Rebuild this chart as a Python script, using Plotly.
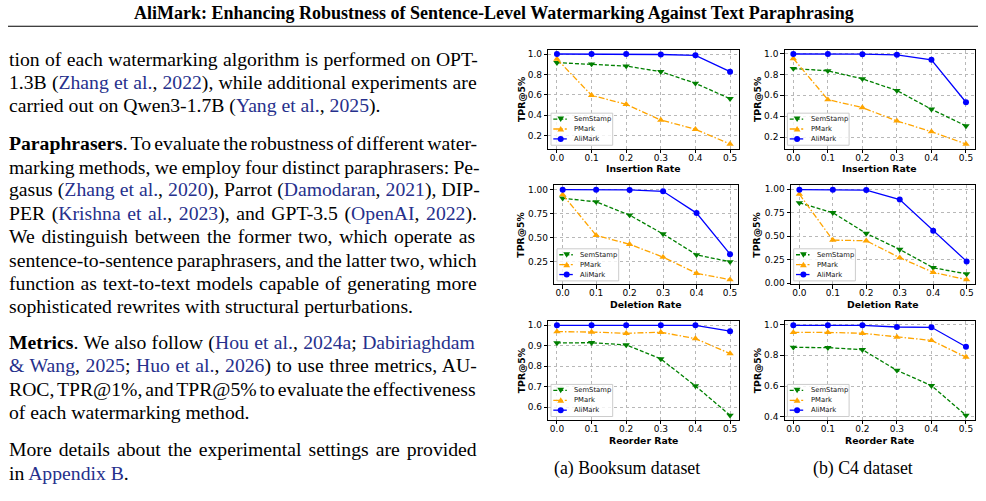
import re
import plotly.graph_objects as go

# ---------------- data ----------------
rates = [0.0, 0.1, 0.2, 0.3, 0.4, 0.5]
rate_labels = ["0.0", "0.1", "0.2", "0.3", "0.4", "0.5"]
methods = ["SemStamp", "PMark", "AliMark"]

booksum_insertion_semstamp = [0.915, 0.902, 0.882, 0.827, 0.713, 0.562]
booksum_insertion_pmark = [0.951, 0.595, 0.507, 0.353, 0.262, 0.118]
booksum_insertion_alimark = [1.000, 1.000, 1.000, 0.995, 0.987, 0.827]

c4_insertion_semstamp = [0.856, 0.834, 0.757, 0.645, 0.466, 0.306]
c4_insertion_pmark = [0.952, 0.558, 0.482, 0.354, 0.251, 0.133]
c4_insertion_alimark = [0.995, 0.995, 0.993, 0.987, 0.939, 0.533]

booksum_deletion_semstamp = [0.911, 0.873, 0.735, 0.539, 0.322, 0.250]
booksum_deletion_pmark = [0.948, 0.525, 0.432, 0.298, 0.130, 0.064]
booksum_deletion_alimark = [1.000, 1.000, 0.997, 0.983, 0.756, 0.329]

c4_deletion_semstamp = [0.855, 0.750, 0.530, 0.360, 0.166, 0.099]
c4_deletion_pmark = [0.947, 0.459, 0.452, 0.272, 0.117, 0.039]
c4_deletion_alimark = [0.995, 0.995, 0.990, 0.890, 0.558, 0.233]

booksum_reorder_semstamp = [0.914, 0.915, 0.904, 0.836, 0.704, 0.561]
booksum_reorder_pmark = [0.969, 0.967, 0.961, 0.966, 0.935, 0.862]
booksum_reorder_alimark = [1.000, 1.000, 1.000, 1.000, 1.000, 0.971]

c4_reorder_semstamp = [0.851, 0.849, 0.836, 0.702, 0.603, 0.411]
c4_reorder_pmark = [0.948, 0.948, 0.942, 0.918, 0.896, 0.788]
c4_reorder_alimark = [0.994, 0.994, 0.994, 0.983, 0.981, 0.855]

ins_booksum_yticks = [0.2, 0.4, 0.6, 0.8, 1.0]
ins_booksum_ylabels = ["0.2", "0.4", "0.6", "0.8", "1.0"]
ins_c4_yticks = [0.2, 0.4, 0.6, 0.8, 1.0]
ins_c4_ylabels = ["0.2", "0.4", "0.6", "0.8", "1.0"]
del_booksum_yticks = [0.25, 0.50, 0.75, 1.00]
del_booksum_ylabels = ["0.25", "0.50", "0.75", "1.00"]
del_c4_yticks = [0.00, 0.25, 0.50, 0.75, 1.00]
del_c4_ylabels = ["0.00", "0.25", "0.50", "0.75", "1.00"]
reo_booksum_yticks = [0.6, 0.7, 0.8, 0.9, 1.0]
reo_booksum_ylabels = ["0.6", "0.7", "0.8", "0.9", "1.0"]
reo_c4_yticks = [0.4, 0.6, 0.8, 1.0]
reo_c4_ylabels = ["0.4", "0.6", "0.8", "1.0"]

x_titles = ["Insertion Rate", "Deletion Rate", "Reorder Rate"]
y_title = "TPR@5%"
captions = ["(a) Booksum dataset", "(b) C4 dataset"]

panels = [
    [(booksum_insertion_semstamp, booksum_insertion_pmark, booksum_insertion_alimark), ins_booksum_yticks, ins_booksum_ylabels],
    [(c4_insertion_semstamp, c4_insertion_pmark, c4_insertion_alimark), ins_c4_yticks, ins_c4_ylabels],
    [(booksum_deletion_semstamp, booksum_deletion_pmark, booksum_deletion_alimark), del_booksum_yticks, del_booksum_ylabels],
    [(c4_deletion_semstamp, c4_deletion_pmark, c4_deletion_alimark), del_c4_yticks, del_c4_ylabels],
    [(booksum_reorder_semstamp, booksum_reorder_pmark, booksum_reorder_alimark), reo_booksum_yticks, reo_booksum_ylabels],
    [(c4_reorder_semstamp, c4_reorder_pmark, c4_reorder_alimark), reo_c4_yticks, reo_c4_ylabels],
]

header = "AliMark: Enhancing Robustness of Sentence-Level Watermarking Against Text Paraphrasing"
# {..} = citation / link (blue), *..* = bold
body_lines = [
    "tion of each watermarking algorithm is performed on OPT-",
    "1.3B ({Zhang et al.}, {2022}), while additional experiments are",
    "carried out on Qwen3-1.7B ({Yang et al.}, {2025}).",
    "*Paraphrasers*. To evaluate the robustness of different water-",
    "marking methods, we employ four distinct paraphrasers: Pe-",
    "gasus ({Zhang et al.}, {2020}), Parrot ({Damodaran}, {2021}), DIP-",
    "PER ({Krishna et al.}, {2023}), and GPT-3.5 ({OpenAI}, {2022}).",
    "We distinguish between the former two, which operate as",
    "sentence-to-sentence paraphrasers, and the latter two, which",
    "function as text-to-text models capable of generating more",
    "sophisticated rewrites with structural perturbations.",
    "*Metrics*. We also follow ({Hou et al.}, {2024a}; {Dabiriaghdam}",
    "{& Wang}, {2025}; {Huo et al.}, {2026}) to use three metrics, AU-",
    "ROC, TPR@1%, and TPR@5% to evaluate the effectiveness",
    "of each watermarking method.",
    "More details about the experimental settings are provided",
    "in {Appendix B}.",
]
paragraph_end = [2, 10, 14, 16]

# ---------------- layout (page pixels) ----------------
W, H = 986, 501
boxes = [  # left, right, top, bottom
    (548.3, 738.7, 49, 149),
    (784.7, 974.6, 49, 149),
    (554.3, 738.4, 186, 286),
    (791.0, 975.0, 186, 286),
    (548.3, 738.7, 323, 423),
    (784.7, 974.6, 323, 423),
]
baselines = [65.7, 89.2, 112.7, 150.5, 174, 197.5, 221, 244.5, 268, 291.5, 315,
             351.5, 375, 398.5, 422, 459.5, 483]
BODY_SIZE = 19.7
TEXT_LEFT = 8.0
LINK = "#26308c"

styles = {
    "SemStamp": dict(color="#008000", dash="4px,2px", symbol="triangle-down", size=6.5),
    "PMark": dict(color="#FFA500", dash="6px,2px,1.5px,2px", symbol="triangle-up", size=6.5),
    "AliMark": dict(color="#0000FF", dash="solid", symbol="circle", size=6),
}

# Times metrics (1/1000 em), used to justify the body lines like the typeset page
TIMES = {' ': 250, '%': 833, '&': 778, '(': 333, ')': 333, ',': 250, '-': 333, '.': 250,
         ':': 278, ';': 278, '@': 921}
TIMES.update({d: 500 for d in "0123456789"})
TIMES.update(dict(zip("ABCDEFGHIJKLMNOPQRSTUVWXYZ",
                      [722, 667, 667, 722, 611, 556, 722, 722, 333, 389, 722, 611, 889, 722, 722,
                       556, 722, 667, 556, 611, 722, 722, 944, 722, 722, 611])))
TIMES.update(dict(zip("abcdefghijklmnopqrstuvwxyz",
                      [444, 500, 444, 500, 444, 333, 500, 500, 278, 278, 500, 278, 778, 500, 500,
                       500, 500, 333, 389, 278, 500, 500, 722, 500, 500, 444])))
TIMES_BOLD = {'P': 611, 'a': 500, 'r': 444, 'p': 556, 'h': 556, 's': 389, 'e': 444,
              'M': 944, 't': 333, 'i': 278, 'c': 444}


def px(x):
    return x / W


def py(y):
    return 1 - y / H


def build_line(line, justify):
    segs = [s for s in re.split(r'(\{[^}]*\}|\*[^*]*\*)', line) if s]
    width = 0.0
    spaces = 0
    parsed = []
    for s in segs:
        if s.startswith('{'):
            kind, txt = 'c', s[1:-1]
        elif s.startswith('*'):
            kind, txt = 'b', s[1:-1]
        else:
            kind, txt = 'n', s
        table = TIMES_BOLD if kind == 'b' else TIMES
        width += sum(table.get(ch, TIMES.get(ch, 500)) for ch in txt) * BODY_SIZE / 1000
        spaces += txt.count(' ')
        parsed.append((kind, txt))
    ws = 0.0
    if justify and spaces:
        right = 479.0 if line.endswith('-') else (478.0 if line.endswith('.') or line.endswith(')') else 476.0)
        ws = (right - TEXT_LEFT - width) / spaces
    out = []
    for kind, txt in parsed:
        txt = txt.replace('&', '&amp;')
        st = f"word-spacing:{ws:.2f}px"
        if kind == 'c':
            out.append(f"<span style='color:{LINK};{st}'>{txt}</span>")
        elif kind == 'b':
            out.append(f"<b><span style='{st}'>{txt}</span></b>")
        else:
            out.append(f"<span style='{st}'>{txt}</span>")
    return "".join(out)


fig = go.Figure()
shapes = []
annotations = []
AX = "DejaVu Sans"
SERIF = "Liberation Serif"

for i, (series, yticks, ylabels) in enumerate(panels):
    L, R, T, B = boxes[i]
    k = i + 1
    xa = "x" if k == 1 else f"x{k}"
    ya = "y" if k == 1 else f"y{k}"
    for name, vals in zip(methods, series):
        st = styles[name]
        fig.add_trace(go.Scatter(
            x=rates, y=vals, name=name, mode="lines+markers",
            xaxis=xa, yaxis=ya, showlegend=False,
            line=dict(color=st["color"], width=1.3, dash=st["dash"]),
            marker=dict(symbol=st["symbol"], size=st["size"], color=st["color"]),
        ))
    allv = [v for s in series for v in s]
    lo, hi = min(allv), max(allv)
    pad = 0.05 * (hi - lo)
    common = dict(
        showline=True, linecolor="black", linewidth=1, mirror=True,
        ticks="outside", ticklen=3.5, tickwidth=0.8, tickcolor="black",
        showgrid=True, gridcolor="#b8b8b8", griddash="dot", gridwidth=0.8,
        zeroline=False, tickfont=dict(family=AX, size=9, color="black"),
    )
    fig.layout[f"xaxis{'' if k == 1 else k}"] = dict(
        domain=[px(L), px(R)], anchor=ya, range=[-0.025, 0.525],
        tickvals=rates, ticktext=rate_labels, ticklabelstandoff=-3, **common)
    fig.layout[f"yaxis{'' if k == 1 else k}"] = dict(
        domain=[py(B), py(T)], anchor=xa, range=[lo - pad, hi + pad],
        tickvals=yticks, ticktext=ylabels, **common)

    # axis titles
    annotations.append(dict(x=px((L + R) / 2), y=py(B + 20.5), xref="paper", yref="paper",
                            text=f"<b>{x_titles[i // 2]}</b>", showarrow=False,
                            xanchor="center", yanchor="middle",
                            font=dict(family=AX, size=9.3, color="black")))
    annotations.append(dict(x=px(521 if i % 2 == 0 else 757), y=py((T + B) / 2),
                            xref="paper", yref="paper", text=f"<b>{y_title}</b>",
                            showarrow=False, textangle=-90, xanchor="center", yanchor="middle",
                            font=dict(family=AX, size=9.3, color="black")))

    # legend (drawn inside the axes, lower left)
    shapes.append(dict(type="rect", xref="paper", yref="paper", layer="above",
                       x0=px(L + 2.7), x1=px(L + 64.4), y0=py(B - 3.3), y1=py(B - 35.7),
                       fillcolor="rgba(255,255,255,0.8)", line=dict(color="#cccccc", width=1)))
    for j, name in enumerate(methods):
        st = styles[name]
        ey = B - 29.7 + 10 * j
        shapes.append(dict(type="line", xref="paper", yref="paper", layer="above",
                           x0=px(L + 5), x1=px(L + 18.5), y0=py(ey), y1=py(ey),
                           line=dict(color=st["color"], width=1.3, dash=st["dash"])))
        cx = L + 12.4
        if st["symbol"] == "circle":
            shapes.append(dict(type="circle", xref="paper", yref="paper", layer="above",
                               x0=px(cx - 3), x1=px(cx + 3), y0=py(ey - 3), y1=py(ey + 3),
                               fillcolor=st["color"], line=dict(color=st["color"], width=0)))
        elif st["symbol"] == "triangle-down":
            path = f"M {px(cx-3.4)},{py(ey-2.6)} L {px(cx+3.4)},{py(ey-2.6)} L {px(cx)},{py(ey+3)} Z"
            shapes.append(dict(type="path", xref="paper", yref="paper", layer="above", path=path,
                               fillcolor=st["color"], line=dict(color=st["color"], width=0)))
        else:
            path = f"M {px(cx-3.4)},{py(ey+2.6)} L {px(cx+3.4)},{py(ey+2.6)} L {px(cx)},{py(ey-3)} Z"
            shapes.append(dict(type="path", xref="paper", yref="paper", layer="above", path=path,
                               fillcolor=st["color"], line=dict(color=st["color"], width=0)))
        annotations.append(dict(x=px(L + 24.8), y=py(ey), xref="paper", yref="paper",
                                text=name, showarrow=False, xanchor="left", yanchor="middle",
                                borderpad=0,
                                font=dict(family=AX, size=6.8, color="#111111")))

# captions
for cx, cap in zip([627, 863], captions):
    annotations.append(dict(x=px(cx), y=py(472.4), xref="paper", yref="paper", text=cap,
                            showarrow=False, xanchor="center", yanchor="middle",
                            font=dict(family=SERIF, size=17.8, color="black")))

# header and rule
annotations.append(dict(x=px(493.5), y=py(12.3), xref="paper", yref="paper", text=f"<b>{header}</b>",
                        showarrow=False, xanchor="center", yanchor="middle",
                        font=dict(family=SERIF, size=18.0, color="black")))
shapes.append(dict(type="line", xref="paper", yref="paper", x0=px(8), x1=px(978),
                   y0=py(25.5), y1=py(25.5), line=dict(color="black", width=1.2)))

# body text (justified like the typeset column)
for n, (bl, line) in enumerate(zip(baselines, body_lines)):
    annotations.append(dict(x=px(TEXT_LEFT), y=py(bl - 0.338 * BODY_SIZE), xref="paper", yref="paper",
                            text=build_line(line, n not in paragraph_end), borderpad=0,
                            showarrow=False, xanchor="left", yanchor="middle", align="left",
                            font=dict(family=SERIF, size=BODY_SIZE, color="black")))

fig.update_layout(
    width=W, height=H, margin=dict(l=0, r=0, t=0, b=0),
    paper_bgcolor="white", plot_bgcolor="white", showlegend=False,
    shapes=shapes, annotations=annotations,
)
fig.write_html("out.html", config={"displayModeBar": False},
               post_script="document.body.style.margin='0';")
